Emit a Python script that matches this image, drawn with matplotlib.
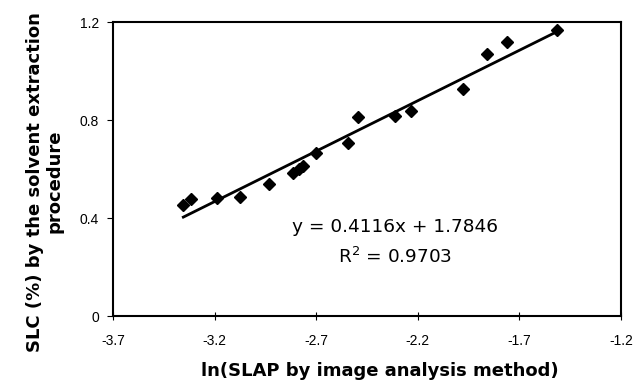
import numpy as np
import matplotlib
matplotlib.use("Agg")
from matplotlib import pyplot as plt

plt.rcParams["font.family"] = ["Liberation Sans", "DejaVu Sans"]

# values
ln_slap = [-3.354, -3.318, -3.187, -3.075, -2.932, -2.813, -2.785, -2.763, -2.699,
           -2.545, -2.493, -2.312, -2.235, -1.976, -1.858, -1.763, -1.513]
slc = [0.453, 0.480, 0.483, 0.487, 0.540, 0.586, 0.600, 0.612, 0.664,
       0.707, 0.814, 0.818, 0.837, 0.928, 1.069, 1.118, 1.166]
slope, intercept = 0.4116, 1.7846
x_ticks = [-3.7, -3.2, -2.7, -2.2, -1.7, -1.2]
y_ticks = [0, 0.4, 0.8, 1.2]

fig = plt.figure(figsize=(6.37, 3.80), dpi=100)
ax = fig.add_axes([0.1774, 0.168, 0.7976, 0.774])

ax.plot(ln_slap, slc, "D", color="black", markersize=6.5)
xl = np.array([min(ln_slap), max(ln_slap)])
ax.plot(xl, slope * xl + intercept, color="black", lw=2)

# the equation text in the reference is a bit wider than Arial, DejaVu fits better
ax.text(-2.31, 0.363, "y = 0.4116x + 1.7846", ha="center", va="center",
        fontsize=13.3, family="DejaVu Sans")
ax.text(-2.31, 0.241, "R$^2$ = 0.9703", ha="center", va="center",
        fontsize=13.3, family="DejaVu Sans")

ax.set_xlim(-3.7, -1.2)
ax.set_ylim(0, 1.2)
ax.set_xticks(x_ticks)
ax.set_xticklabels([str(v) for v in x_ticks])
ax.set_yticks(y_ticks)
ax.set_yticklabels(["0", "0.4", "0.8", "1.2"])
ax.tick_params(axis="x", direction="inout", length=6, labelsize=10, pad=10)
ax.tick_params(axis="y", direction="out", length=4, labelsize=10, pad=6)
for s in ax.spines.values():
    s.set_linewidth(1.5)

ax.set_xlabel("ln(SLAP by image analysis method)", fontsize=13, fontweight="bold",
              family="DejaVu Sans", va="center")
ax.xaxis.set_label_coords(0.526, -0.187)
ax.set_ylabel("SLC (%) by the solvent extraction\nprocedure", fontsize=13,
              fontweight="bold", family="DejaVu Sans", va="center", linespacing=1.1)
ax.yaxis.set_label_coords(-0.134, 0.457)

fig.savefig("out.png", dpi=100)
